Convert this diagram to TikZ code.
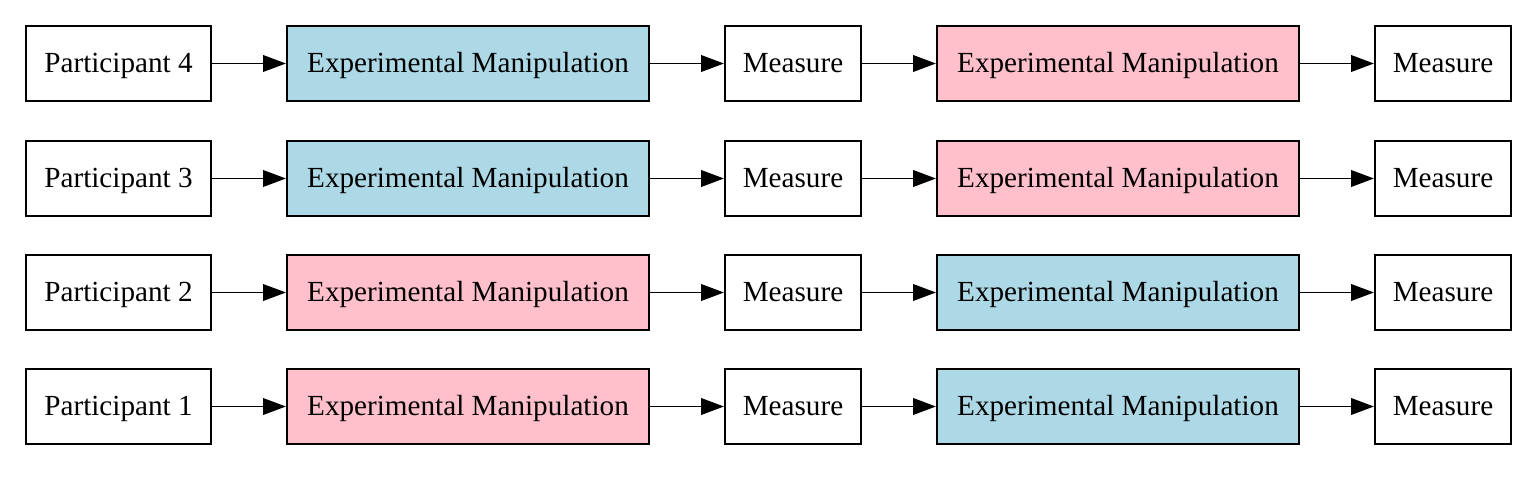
\documentclass[tikz,border=0pt]{standalone}
\usepackage{fontspec}
\setmainfont{Liberation Serif}
\usetikzlibrary{arrows.meta}

\definecolor{cblue}{RGB}{173,216,230}
\definecolor{cpink}{RGB}{255,192,203}

\tikzset{
  box/.style={draw, line width=1pt, minimum height=36pt, inner sep=0pt, text height=11pt, text depth=2pt, font=\fontsize{14}{16}\selectfont},
  pbox/.style={box, minimum width=88.8pt},
  ebox/.style={box, minimum width=173.8pt},
  mbox/.style={box, minimum width=65.3pt},
  arr/.style={line width=0.8pt, -{Triangle[length=11pt,width=8pt]}}
}

\begin{document}
\begin{tikzpicture}[x=0.48pt, y=-0.48pt]
  \useasboundingbox (0,0) rectangle (1536,478);

  % row 4
  \node [pbox] (p4) at (118.5,63.5) {Participant 4};
  \node [ebox, fill=cblue] (e4a) at (468,63.5) {Experimental Manipulation};
  \node [mbox] (m4a) at (793,63.5) {Measure};
  \node [ebox, fill=cpink] (e4b) at (1118,63.5) {Experimental Manipulation};
  \node [mbox] (m4b) at (1443,63.5) {Measure};

  % row 3
  \node [pbox] (p3) at (118.5,178.5) {Participant 3};
  \node [ebox, fill=cblue] (e3a) at (468,178.5) {Experimental Manipulation};
  \node [mbox] (m3a) at (793,178.5) {Measure};
  \node [ebox, fill=cpink] (e3b) at (1118,178.5) {Experimental Manipulation};
  \node [mbox] (m3b) at (1443,178.5) {Measure};

  % row 2
  \node [pbox] (p2) at (118.5,292.5) {Participant 2};
  \node [ebox, fill=cpink] (e2a) at (468,292.5) {Experimental Manipulation};
  \node [mbox] (m2a) at (793,292.5) {Measure};
  \node [ebox, fill=cblue] (e2b) at (1118,292.5) {Experimental Manipulation};
  \node [mbox] (m2b) at (1443,292.5) {Measure};

  % row 1
  \node [pbox] (p1) at (118.5,406.5) {Participant 1};
  \node [ebox, fill=cpink] (e1a) at (468,406.5) {Experimental Manipulation};
  \node [mbox] (m1a) at (793,406.5) {Measure};
  \node [ebox, fill=cblue] (e1b) at (1118,406.5) {Experimental Manipulation};
  \node [mbox] (m1b) at (1443,406.5) {Measure};

  \draw [arr] (p4) -- (e4a);
  \draw [arr] (e4a) -- (m4a);
  \draw [arr] (m4a) -- (e4b);
  \draw [arr] (e4b) -- (m4b);

  \draw [arr] (p3) -- (e3a);
  \draw [arr] (e3a) -- (m3a);
  \draw [arr] (m3a) -- (e3b);
  \draw [arr] (e3b) -- (m3b);

  \draw [arr] (p2) -- (e2a);
  \draw [arr] (e2a) -- (m2a);
  \draw [arr] (m2a) -- (e2b);
  \draw [arr] (e2b) -- (m2b);

  \draw [arr] (p1) -- (e1a);
  \draw [arr] (e1a) -- (m1a);
  \draw [arr] (m1a) -- (e1b);
  \draw [arr] (e1b) -- (m1b);
\end{tikzpicture}
\end{document}
